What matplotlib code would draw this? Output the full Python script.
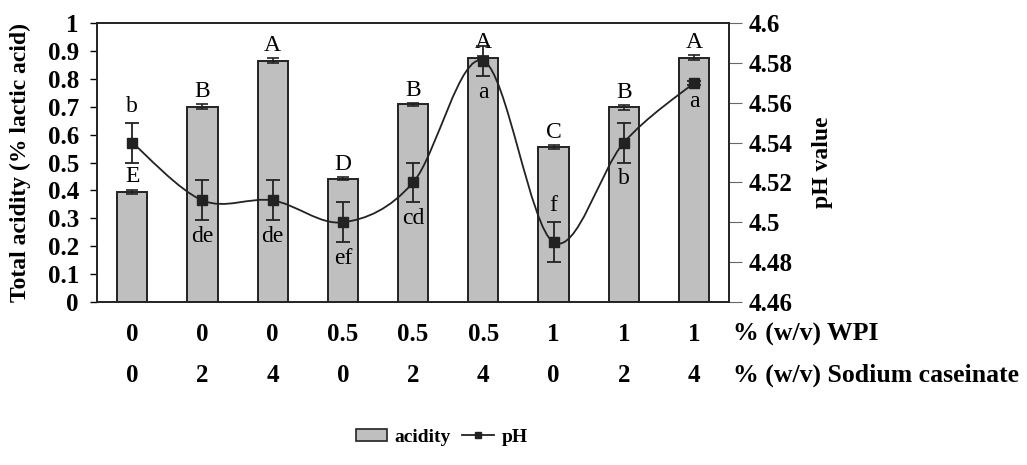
import numpy as np
import matplotlib.pyplot as plt
from matplotlib.path import Path
from matplotlib.patches import PathPatch, Patch
from matplotlib.lines import Line2D
import matplotlib.transforms as mtransforms

plt.rcParams['font.family'] = ['Liberation Serif', 'DejaVu Serif']

# data
wpi = ["0", "0", "0", "0.5", "0.5", "0.5", "1", "1", "1"]
caseinate = ["0", "2", "4", "0", "2", "4", "0", "2", "4"]
acidity = [0.395, 0.700, 0.865, 0.442, 0.708, 0.875, 0.556, 0.698, 0.876]
acidity_err = [0.008, 0.008, 0.008, 0.006, 0.006, 0.008, 0.006, 0.008, 0.008]
ph = [4.540, 4.511, 4.511, 4.500, 4.520, 4.581, 4.490, 4.540, 4.570]
ph_err = [0.010, 0.010, 0.010, 0.010, 0.010, 0.0075, 0.010, 0.010, 0.001]
acid_letters = ["E", "B", "A", "D", "B", "A", "C", "B", "A"]
ph_letters = ["b", "de", "de", "ef", "cd", "a", "f", "b", "a"]
ph_letter_side = ["above", "below", "below", "below", "below", "below", "above", "below", "below"]

x = np.arange(len(acidity))

fig = plt.figure(figsize=(10.27, 4.65), dpi=100)
ax = fig.add_axes([0.0945, 0.3505, 0.6155, 0.600])
ax2 = ax.twinx()

ax.bar(x, acidity, width=0.43, color='#bfbfbf', edgecolor='#222222', linewidth=1.4,
       yerr=acidity_err, error_kw=dict(ecolor='#222222', elinewidth=1.2, capsize=4, capthick=1.2),
       zorder=2)
ax.set_xlim(-0.5, len(acidity) - 0.5)
ax.set_ylim(0, 1)
ax.set_yticks(np.arange(0, 1.01, 0.1))
ax.set_yticklabels([f"{v:g}" for v in np.round(np.arange(0, 1.01, 0.1), 1)])
ax.set_xticks([])
ax.set_ylabel("Total acidity (% lactic acid)", fontsize=17, fontweight='bold', labelpad=12)
for lab in ax.get_yticklabels():
    lab.set_fontweight('bold')
    lab.set_fontsize(18)
ax.tick_params(axis='y', direction='out', length=5, width=1, pad=8)

# uppercase letters above acidity bars
for xi, a, e, s in zip(x, acidity, acidity_err, acid_letters):
    ax.text(xi, a + e + 0.008, s, ha='center', va='bottom', fontsize=17, zorder=5)

# smoothed pH line (Bezier like a spreadsheet "smoothed line")
pts = np.column_stack([x, ph])
verts = [tuple(pts[0])]
codes = [Path.MOVETO]
n = len(pts)
for i in range(n - 1):
    p0 = pts[max(i - 1, 0)]
    p1 = pts[i]
    p2 = pts[i + 1]
    p3 = pts[min(i + 2, n - 1)]
    c1 = p1 + (p2 - p0) / 6.0
    c2 = p2 - (p3 - p1) / 6.0
    verts += [tuple(c1), tuple(c2), tuple(p2)]
    codes += [Path.CURVE4] * 3
ax2.add_patch(PathPatch(Path(verts, codes), facecolor='none', edgecolor='#222222',
                        linewidth=1.3, zorder=3))
ax2.errorbar(x, ph, yerr=ph_err, fmt='s', color='#222222', markersize=7,
             elinewidth=1.3, capsize=5, capthick=1.3, zorder=4)

for xi, p, e, s, side in zip(x, ph, ph_err, ph_letters, ph_letter_side):
    if side == "above":
        ax2.text(xi, p + e + 0.003, s, ha='center', va='bottom', fontsize=17, zorder=5)
    else:
        ax2.text(xi, p - e - 0.003, s, ha='center', va='top', fontsize=17, zorder=5)

ax2.set_ylim(4.46, 4.6)
ph_ticks = np.round(np.arange(4.46, 4.601, 0.02), 2)
ax2.set_yticks(ph_ticks)
ax2.set_yticklabels([f"{v:g}" for v in ph_ticks])
for lab in ax2.get_yticklabels():
    lab.set_fontweight('bold')
    lab.set_fontsize(18)
ax2.tick_params(axis='y', direction='out', length=9, width=0.8, color='#666666', pad=5)
ax2.set_ylabel("pH value", fontsize=17, fontweight='bold', labelpad=14)

for a in (ax, ax2):
    for sp in a.spines.values():
        sp.set_linewidth(1.2)
        sp.set_color('#222222')

# two rows of category labels below the axis
trans = mtransforms.blended_transform_factory(ax.transData, ax.transAxes)
for xi, w, c in zip(x, wpi, caseinate):
    ax.text(xi, -0.118, w, transform=trans, ha='center', va='center', fontsize=18, fontweight='bold')
    ax.text(xi, -0.262, c, transform=trans, ha='center', va='center', fontsize=18, fontweight='bold')
ax.text(1.006, -0.118, "% (w/v) WPI", transform=ax.transAxes, ha='left', va='center',
        fontsize=18.5, fontweight='bold')
ax.text(1.006, -0.262, "% (w/v) Sodium caseinate", transform=ax.transAxes, ha='left', va='center',
        fontsize=18.5, fontweight='bold')

handles = [Patch(facecolor='#bfbfbf', edgecolor='#222222', linewidth=1.2, label='acidity'),
           Line2D([], [], color='#222222', marker='s', markersize=5, linewidth=1.3, label='pH')]
leg = ax.legend(handles=handles, loc='center', bbox_to_anchor=(0.545, -0.484), ncol=2,
                frameon=False, prop={'weight': 'bold', 'size': 14}, handlelength=1.6,
                handleheight=0.6, handletextpad=0.4, columnspacing=0.6)

fig.savefig("out.png", dpi=100)
